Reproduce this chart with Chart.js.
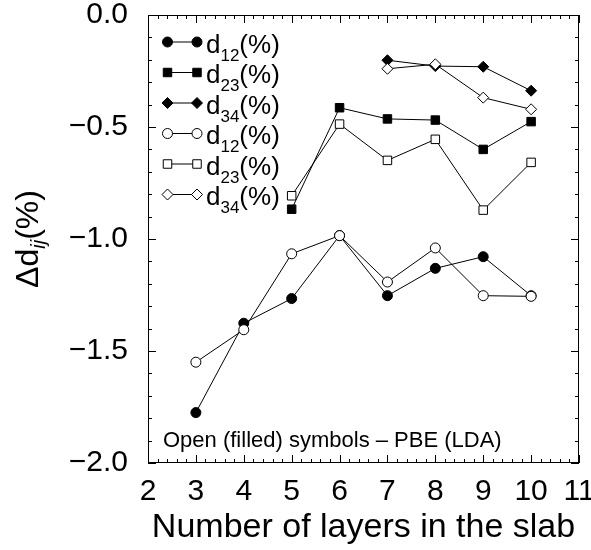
<!DOCTYPE html>
<html>
<head>
<meta charset="utf-8">
<script src="https://cdn.jsdelivr.net/npm/chart.js@4/dist/chart.umd.min.js"></script>
<style>
  html, body { margin: 0; padding: 0; background: #fff; }
  #wrap { width: 591px; height: 550px; position: relative; }
</style>
</head>
<body>
<div id="wrap"><canvas id="chart"></canvas></div>
<script>
// number of layers in the slab for each interlayer spacing
const layersD12 = [3, 4, 5, 6, 7, 8, 9, 10];
const layersD23 = [5, 6, 7, 8, 9, 10];
const layersD34 = [7, 8, 9, 10];

// relaxation (%) - LDA (filled) and PBE (open)
const d12Lda = [-1.775, -1.376, -1.266, -0.985, -1.253, -1.131, -1.079, -1.253];
const d23Lda = [-0.867, -0.414, -0.464, -0.469, -0.600, -0.476];
const d34Lda = [-0.202, -0.228, -0.231, -0.338];
const d12Pbe = [-1.550, -1.405, -1.066, -0.985, -1.192, -1.040, -1.253, -1.256];
const d23Pbe = [-0.807, -0.487, -0.649, -0.555, -0.871, -0.658];
const d34Pbe = [-0.240, -0.220, -0.369, -0.421];

const xTicks = [2, 3, 4, 5, 6, 7, 8, 9, 10, 11];
const yTicks = [-2.0, -1.5, -1.0, -0.5, 0.0];

const FONT = '"Liberation Sans", Arial, Helvetica, sans-serif';

function pts(xs, ys) {
  return xs.map((x, i) => ({ x: x, y: ys[i] }));
}

function series(sub, xs, ys, style, radius, filled) {
  return {
    label: 'd' + sub + '(%)',
    sub: sub,
    data: pts(xs, ys),
    borderColor: '#000',
    borderWidth: 1,
    pointStyle: style,
    pointRadius: radius,
    pointHoverRadius: radius,
    pointBorderWidth: 1,
    pointBorderColor: '#000',
    pointBackgroundColor: filled ? '#000' : '#fff',
    fill: false,
    tension: 0,
    order: filled ? 1 : 0   // open symbols sit on top
  };
}

const datasets = [
  series('12', layersD12, d12Lda, 'circle', 5, true),
  series('23', layersD23, d23Lda, 'rect', 6, true),
  series('34', layersD34, d34Lda, 'rectRot', 5.5, true),
  series('12', layersD12, d12Pbe, 'circle', 5, false),
  series('23', layersD23, d23Pbe, 'rect', 6, false),
  series('34', layersD34, d34Pbe, 'rectRot', 5.5, false)
];

// frame, inward ticks on all four sides, legend, y title and note
const decorations = {
  id: 'decorations',
  beforeDatasetsDraw(chart) {
    const { ctx, chartArea: a, scales: { x, y } } = chart;
    ctx.save();
    ctx.strokeStyle = '#000';
    ctx.lineWidth = 1;
    ctx.strokeRect(Math.round(a.left) + 0.5, Math.round(a.top) + 0.5,
      Math.round(a.right - a.left) - 1, Math.round(a.bottom - a.top) - 1);
    ctx.beginPath();
    for (let i = 0; i <= 45; i++) {
      const v = x.min + i * 0.2;
      const px = Math.round(x.getPixelForValue(v)) + 0.5;
      const len = i % 5 === 0 ? 8 : 4;
      ctx.moveTo(px, a.bottom); ctx.lineTo(px, a.bottom - len);
      ctx.moveTo(px, a.top); ctx.lineTo(px, a.top + len);
    }
    for (let i = 0; i <= 20; i++) {
      const v = y.min + i * 0.1;
      const py = Math.round(y.getPixelForValue(v)) + 0.5;
      const len = i % 5 === 0 ? 8 : 4;
      ctx.moveTo(a.left, py); ctx.lineTo(a.left + len, py);
      ctx.moveTo(a.right, py); ctx.lineTo(a.right - len, py);
    }
    ctx.stroke();
    ctx.restore();
  },
  afterDraw(chart) {
    const { ctx, chartArea: a } = chart;
    const helpers = Chart.helpers;
    ctx.save();
    ctx.fillStyle = '#000';
    ctx.strokeStyle = '#000';

    // legend: line with a symbol at each end
    const lx0 = 167.5, lx1 = 197, ly0 = 42, dy = 30.5;
    chart.data.datasets.forEach((ds, i) => {
      const yy = ly0 + i * dy;
      ctx.lineWidth = 1;
      ctx.beginPath();
      ctx.moveTo(lx0, yy); ctx.lineTo(lx1, yy);
      ctx.stroke();
      [lx0, lx1].forEach(px => {
        ctx.fillStyle = ds.pointBackgroundColor;
        ctx.strokeStyle = '#000';
        helpers.drawPoint(ctx, { pointStyle: ds.pointStyle, radius: ds.pointRadius, rotation: 0, borderWidth: 1 }, px, yy);
      });
      ctx.fillStyle = '#000';
      ctx.textBaseline = 'alphabetic';
      ctx.textAlign = 'left';
      let tx = 206;
      const base = yy + 10.5;
      ctx.font = '26px ' + FONT;
      ctx.fillText('d', tx, base);
      tx += ctx.measureText('d').width;
      ctx.font = '17px ' + FONT;
      ctx.fillText(ds.sub, tx, base + 8);
      tx += ctx.measureText(ds.sub).width;
      ctx.font = '26px ' + FONT;
      ctx.fillText('(%)', tx, base);
    });

    // note inside the plot
    ctx.font = '22px ' + FONT;
    ctx.textAlign = 'left';
    ctx.fillText('Open (filled) symbols \u2013 PBE (LDA)', 163, 447);

    // rotated y title with italic subscript
    const partA = '\u0394d', partB = 'ij', partC = '(%)';
    ctx.font = '32px ' + FONT;
    const wA = ctx.measureText(partA).width, wC = ctx.measureText(partC).width;
    ctx.font = 'italic 20px ' + FONT;
    const wB = ctx.measureText(partB).width;
    const total = wA + wB + wC;
    ctx.translate(38, (a.top + a.bottom) / 2);
    ctx.rotate(-Math.PI / 2);
    let t = -total / 2;
    ctx.font = '32px ' + FONT;
    ctx.fillText(partA, t, 0); t += wA;
    ctx.font = 'italic 20px ' + FONT;
    ctx.fillText(partB, t, 7); t += wB;
    ctx.font = '32px ' + FONT;
    ctx.fillText(partC, t, 0);
    ctx.restore();
  }
};

new Chart(document.getElementById('chart'), {
  type: 'line',
  data: { datasets: datasets },
  options: {
    responsive: true,
    maintainAspectRatio: false,
    animation: false,
    layout: { padding: { top: 15, right: 12, left: 0, bottom: 0 } },
    plugins: {
      legend: { display: false },
      tooltip: { enabled: false },
      title: { display: false }
    },
    scales: {
      x: {
        type: 'linear',
        min: 2,
        max: 11,
        afterBuildTicks: s => { s.ticks = xTicks.map(v => ({ value: v })); },
        ticks: { color: '#000', font: { family: FONT, size: 30 }, padding: 11, maxRotation: 0 },
        grid: { display: false, drawTicks: false },
        border: { display: false },
        title: {
          display: true,
          text: 'Number of layers in the slab',
          color: '#000',
          font: { family: FONT, size: 34 },
          padding: { top: 0, bottom: 2 }
        },
        afterFit: s => { s.height = 87; s.paddingLeft = 0; s.paddingRight = 0; }
      },
      y: {
        min: -2,
        max: 0,
        afterBuildTicks: s => { s.ticks = yTicks.map(v => ({ value: v })); },
        ticks: {
          color: '#000',
          font: { family: FONT, size: 30 },
          padding: 20,
          callback: v => v.toFixed(1).replace('-', '\u2212')
        },
        grid: { display: false, drawTicks: false },
        border: { display: false },
        afterFit: s => { s.width = 148; s.paddingTop = 0; s.paddingBottom = 0; }
      }
    }
  },
  plugins: [decorations]
});
</script>
</body>
</html>
